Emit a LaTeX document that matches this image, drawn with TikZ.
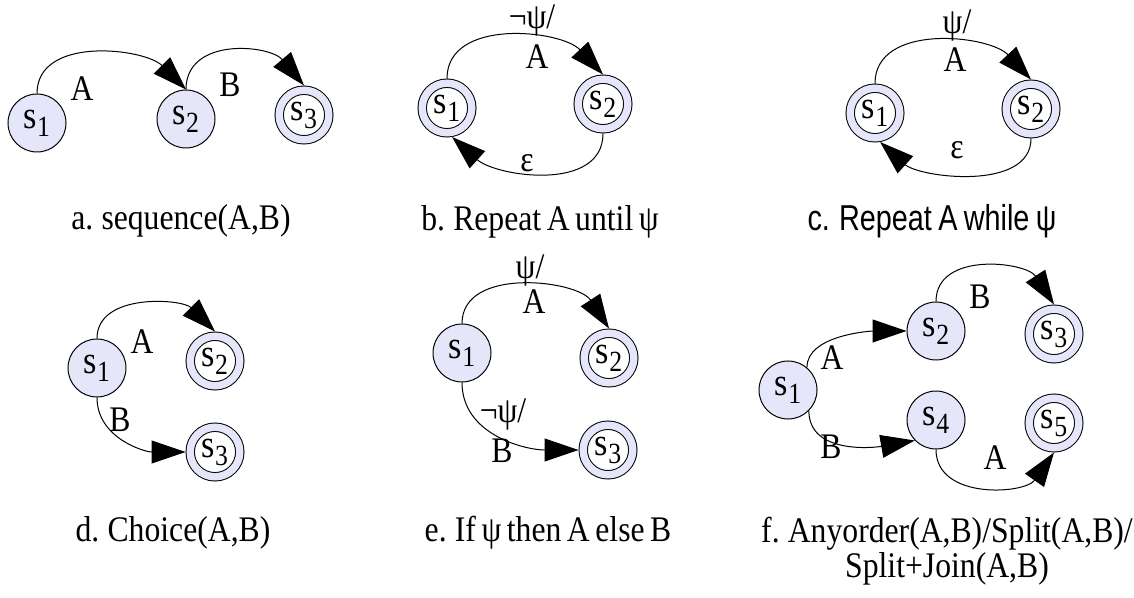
\documentclass[tikz,border=0pt]{standalone}
\usepackage{fontspec}
\usepackage{graphicx}
\usepackage{xcolor}
\usepackage{tikz}
\usetikzlibrary{arrows.meta}
\setmainfont[FakeStretch=0.88,WordSpace=0.7]{Liberation Serif}
\newfontfamily\narrowsf[FakeStretch=0.8,WordSpace=0.8]{Liberation Sans}
\definecolor{FSMFill}{HTML}{E6E6FA}
\newcommand{\idx}[1]{\raisebox{-0.45ex}{\scalebox{0.75}{#1}}}
\tikzset{
  stnode/.style={circle,draw,fill=FSMFill,minimum size=29pt,inner sep=0pt,
    font=\fontsize{19.5}{18}\selectfont},
  accnode/.style={circle,draw,double=FSMFill,double distance=3.7pt,fill=white,
    minimum size=24.8pt,inner sep=0pt,outer sep=2.35pt,font=\fontsize{19.5}{18}\selectfont},
  trans/.style={-{Triangle[length=17pt,width=11.5pt]}},
  lbl/.style={inner sep=0pt},
}

\begin{document}
\begin{tikzpicture}[x=0.5pt,y=-0.5pt,line width=0.5pt,font=\fontsize{18}{16}\selectfont]
\path[use as bounding box] (0,0) rectangle (1134,598);
\node[stnode] (a1) at (37,123) {s\idx{1}};
\node[stnode] (a2) at (186,119) {s\idx{2}};
\node[accnode] (a3) at (304,115) {s\idx{3}};
\draw[trans] (a1.north) to[out=90,in=135] (a2.north);
\draw[trans] (a2.north) to[out=90,in=130,looseness=1.15] (a3.north);
\node[lbl] (aA) at (82,89) {A};
\node[lbl] (aB) at (230,85) {B};
\node (acap) at (181,221) {a. sequence(A,B)};
\node[accnode] (b1) at (447,108) {s\idx{1}};
\node[accnode] (b2) at (603,104) {s\idx{2}};
\draw[trans] (b1.north) to[out=90,in=133] (b2.north);
\draw[trans] (b2.south) to[out=-90,in=-42] (b1.-80);
\node[lbl] (bcond) at (532,20) {¬ψ/};
\node[lbl] (bA) at (537,57) {A};
\node[lbl] (beps) at (527,163) {ε};
\node (bcap) at (540,222) {b. Repeat A until ψ};
\node[accnode] (c1) at (875,113) {s\idx{1}};
\node[accnode] (c2) at (1031,109) {s\idx{2}};
\draw[trans] (c1.north) to[out=90,in=133] (c2.north);
\draw[trans] (c2.south) to[out=-90,in=-42,looseness=0.9] (c1.-80);
\node[lbl] (ccond) at (957,25) {ψ/};
\node[lbl] (cA) at (955,60) {A};
\node[lbl] (ceps) at (957,150) {ε};
\node (ccap) at (932,221) {\narrowsf c. Repeat A while ψ};
\node[stnode] (d1) at (97,368) {s\idx{1}};
\node[accnode] (d2) at (215,361) {s\idx{2}};
\node[accnode] (d3) at (215,452) {s\idx{3}};
\draw[trans] (d1.north) to[out=90,in=135] (d2.north);
\draw[trans] (d1.south) to[out=-90,in=180] (d3.west);
\node[lbl] (dA) at (142,342) {A};
\node[lbl] (dB) at (120,420) {B};
\node (dcap) at (173,533) {d. Choice(A,B)};
\node[stnode] (e1) at (462,353) {s\idx{1}};
\node[accnode] (e2) at (609,358) {s\idx{2}};
\node[accnode] (e3) at (608,450) {s\idx{3}};
\draw[trans] (e1.north) to[out=90,in=123] (e2.north);
\draw[trans] (e1.south) to[out=-90,in=180] (e3.west);
\node[lbl] (econd) at (530,270) {ψ/};
\node[lbl] (eA) at (534,302) {A};
\node[lbl] (encond) at (503,414) {¬ψ/};
\node[lbl] (eB) at (502,451) {B};
\node (ecap) at (548,533) {e. If ψ then A else B};
\node[stnode] (f1) at (788,390) {s\idx{1}};
\node[stnode] (f2) at (936,331) {s\idx{2}};
\node[accnode] (f3) at (1054,334) {s\idx{3}};
\node[stnode] (f4) at (936,420) {s\idx{4}};
\node[accnode] (f5) at (1054,423) {s\idx{5}};
\draw[trans] (f1.50) to[out=90,in=180,looseness=0.8] (f2.west);
\draw[trans] (f1.-45) to[out=-90,in=190] (f4.-136);
\draw[trans] (f2.north) to[out=90,in=123,looseness=1.1] (f3.north);
\draw[trans] (f4.south) to[out=-90,in=-125,looseness=1.1] (f5.south);
\node[lbl] (fA) at (832,358) {A};
\node[lbl] (fB) at (831,447) {B};
\node[lbl] (fB2) at (980,297) {B};
\node[lbl] (fA2) at (995,458) {A};
\node[align=center] (fcap) at (947,551) {f. Anyorder(A,B)/Split(A,B)/\\Split+Join(A,B)};
\end{tikzpicture}
\end{document}
